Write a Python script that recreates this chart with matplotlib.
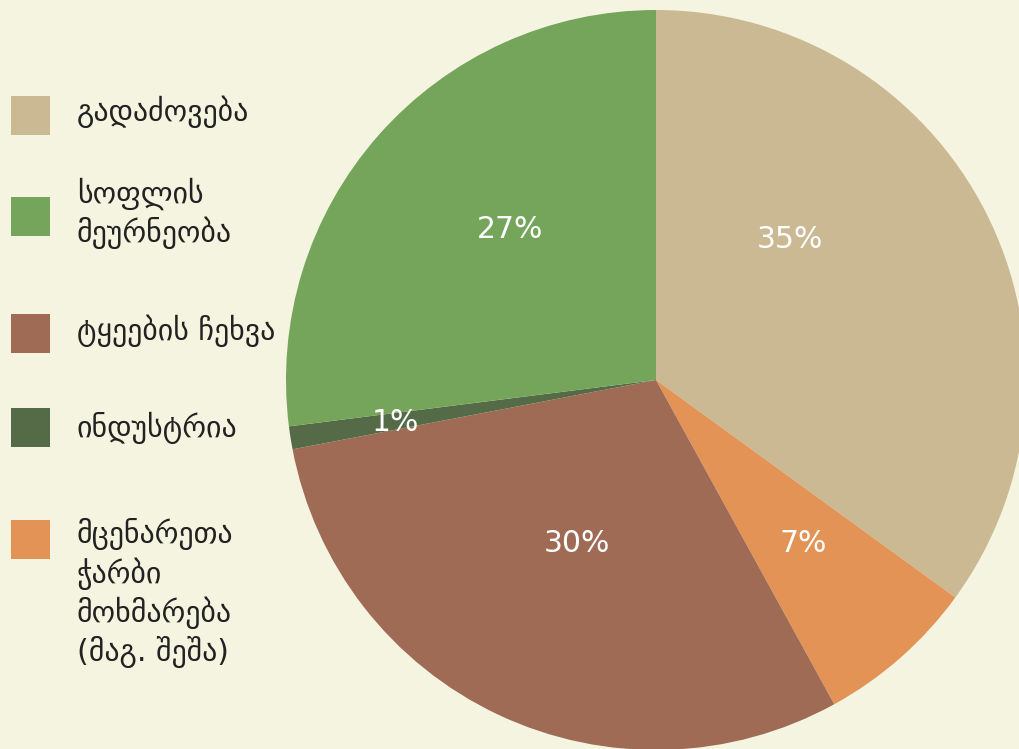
import matplotlib
matplotlib.use("Agg")
import matplotlib.pyplot as plt
from matplotlib.patches import Rectangle

# ---- data ----
categories = ["გადაძოვება", "მცენარეთა\nჭარბი\nმოხმარება\n(მაგ. შეშა)", "ტყეების ჩეხვა",
              "ინდუსტრია", "სოფლის\nმეურნეობა"]
values = [35, 7, 30, 1, 27]
colors = ["#CBB994", "#E29355", "#A06B55", "#556B47", "#74A55A"]
legend_order = [0, 4, 2, 3, 1]

# ---- layout (styling) ----
W, H, DPI = 1020, 749, 100
bg = "#F5F4E0"
cx, cy, R = 656, 380, 370  # pixel centre / radius of the pie
# label positions in pie-radius units (x, y)
label_xy = [(0.362, 0.381), (0.397, -0.441), (-0.214, -0.441), (-0.705, -0.114), (-0.395, 0.408)]
legend_patch_top = [96, 197, 314, 408, 520]
legend_text_y = [112, 213, 331, 428, 593]
fs = 21.5

fig = plt.figure(figsize=(W / DPI, H / DPI), dpi=DPI, facecolor=bg)
ax = fig.add_axes([(cx - R) / W, (H - cy - R) / H, 2 * R / W, 2 * R / H])
ax.set_facecolor(bg)
wedges, texts, autotexts = ax.pie(values, colors=colors, startangle=90, counterclock=False,
                                  radius=1, autopct="%d%%",
                                  wedgeprops=dict(linewidth=0),
                                  textprops=dict(color="white", fontsize=fs))
for t, (x, y) in zip(autotexts, label_xy):
    t.set_position((x, y))
    t.set_ha("center")
    t.set_va("center")
ax.set_xlim(-1, 1)
ax.set_ylim(-1, 1)
ax.set_aspect("equal")
ax.axis("off")

for k, idx in enumerate(legend_order):
    top = legend_patch_top[k]
    fig.patches.append(Rectangle((11 / W, 1 - (top + 39) / H), 39 / W, 39 / H,
                                 transform=fig.transFigure, facecolor=colors[idx],
                                 edgecolor="none"))
    fig.text(77 / W, 1 - legend_text_y[k] / H, categories[idx], ha="left", va="center",
             fontsize=fs, color="#222222", linespacing=1.27)

fig.savefig("out.png", dpi=DPI, facecolor=bg)
